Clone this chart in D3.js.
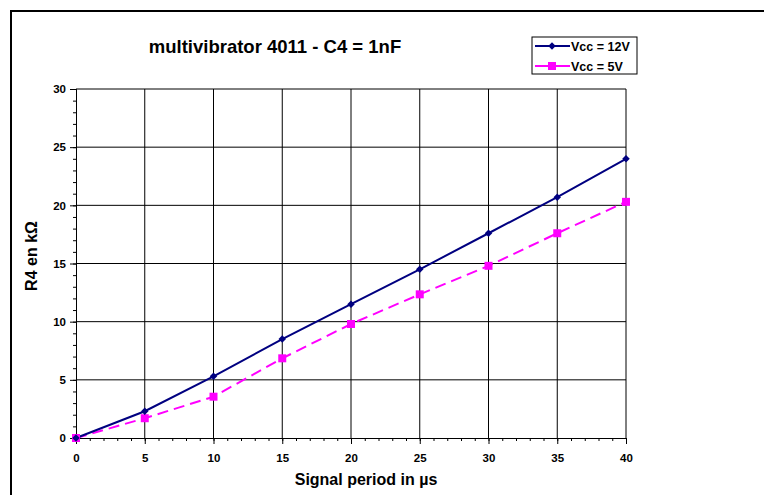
<!DOCTYPE html>
<html>
<head>
<meta charset="utf-8">
<script src="https://cdn.jsdelivr.net/npm/d3@7"></script>
<style>
  body { margin: 0; background: #fff; }
  text { font-family: Arial, "Liberation Sans", sans-serif; font-weight: bold; fill: #000; }
</style>
</head>
<body>
<div id="chart"></div>
<script>
// data
var periods = [0, 5, 10, 15, 20, 25, 30, 35, 40];
var r4At12V = [0, 2.3, 5.3, 8.5, 11.5, 14.5, 17.6, 20.7, 24.0];
var r4At5V = [0, 1.7, 3.55, 6.85, 9.8, 12.35, 14.8, 17.6, 20.3];
var xTicks = [0, 5, 10, 15, 20, 25, 30, 35, 40];
var yTicks = [0, 5, 10, 15, 20, 25, 30];
var seriesNames = ["Vcc = 12V", "Vcc = 5V"];

var W = 764, H = 495;
var margin = { top: 89, right: 138, bottom: 57, left: 76 },
    width = W - margin.left - margin.right,
    height = H - margin.top - margin.bottom;

var svg = d3.select("#chart")
  .append("svg")
  .attr("width", W)
  .attr("height", H);

// chart frame (runs off the right/bottom edge)
svg.append("rect")
  .attr("x", 11).attr("y", 11)
  .attr("width", W + 20).attr("height", H + 20)
  .attr("fill", "none")
  .attr("stroke", "#000")
  .attr("stroke-width", 2);

var g = svg.append("g")
  .attr("transform", "translate(" + margin.left + "," + margin.top + ")");

var x = d3.scaleLinear().domain([0, 40]).range([0, width]);
var y = d3.scaleLinear().domain([0, 30]).range([height, 0]);

// gridlines
g.selectAll(".vgrid")
  .data(xTicks.slice(1))
  .enter().append("line")
    .attr("x1", function(d) { return x(d) }).attr("x2", function(d) { return x(d) })
    .attr("y1", 0).attr("y2", height)
    .attr("stroke", "#000").attr("stroke-width", 1);
g.selectAll(".hgrid")
  .data(yTicks.slice(1))
  .enter().append("line")
    .attr("x1", 0).attr("x2", width)
    .attr("y1", function(d) { return y(d) }).attr("y2", function(d) { return y(d) })
    .attr("stroke", "#000").attr("stroke-width", 1);

// minor ticks (every 1 unit)
var xAxisMinor = g.append("g")
  .attr("transform", "translate(0," + height + ")")
  .call(d3.axisBottom(x).ticks(40).tickSize(3).tickFormat(""));
var yAxisMinor = g.append("g")
  .call(d3.axisLeft(y).ticks(30).tickSize(3).tickFormat(""));

// major axes
var xAxis = g.append("g")
  .attr("transform", "translate(0," + height + ")")
  .call(d3.axisBottom(x).tickValues(xTicks).tickSize(6).tickPadding(10));
var yAxis = g.append("g")
  .call(d3.axisLeft(y).tickValues(yTicks).tickSize(6).tickPadding(4));

[xAxisMinor, yAxisMinor, xAxis, yAxis].forEach(function(a) {
  a.selectAll("path, line").attr("stroke", "#000").attr("stroke-width", 1);
  a.selectAll("text").style("font-size", "11.5px").style("font-family", "Arial, 'Liberation Sans', sans-serif").style("font-weight", "bold").attr("fill", "#000");
});

// lines
var line = d3.line()
  .x(function(d) { return x(d[0]) })
  .y(function(d) { return y(d[1]) });

var data12 = periods.map(function(p, i) { return [p, r4At12V[i]] });
var data5 = periods.map(function(p, i) { return [p, r4At5V[i]] });

g.append("path")
  .datum(data5)
  .attr("d", line)
  .attr("fill", "none")
  .attr("stroke", "#ff00ff")
  .attr("stroke-width", 2)
  .attr("stroke-dasharray", "11,6");

g.append("path")
  .datum(data12)
  .attr("d", line)
  .attr("fill", "none")
  .attr("stroke", "#000080")
  .attr("stroke-width", 2);

var diamond = d3.symbol().type(d3.symbolDiamond2).size(36);
var square = d3.symbol().type(d3.symbolSquare).size(64);

g.selectAll(".m5")
  .data(data5)
  .enter().append("path")
    .attr("d", square)
    .attr("transform", function(d) { return "translate(" + x(d[0]) + "," + y(d[1]) + ")" })
    .attr("fill", "#ff00ff");

g.selectAll(".m12")
  .data(data12)
  .enter().append("path")
    .attr("d", diamond)
    .attr("transform", function(d) { return "translate(" + x(d[0]) + "," + y(d[1]) + ")" })
    .attr("fill", "#000080");

// title and axis labels
svg.append("text")
  .attr("x", 275).attr("y", 53)
  .attr("text-anchor", "middle")
  .style("font-size", "18.5px")
  .text("multivibrator 4011 - C4 = 1nF");

svg.append("text")
  .attr("x", 366).attr("y", 485)
  .attr("text-anchor", "middle")
  .style("font-size", "16px")
  .text("Signal period in µs");

svg.append("text")
  .attr("transform", "translate(37,256) rotate(-90)")
  .attr("text-anchor", "middle")
  .style("font-size", "16px")
  .text("R4 en kΩ");

// legend
var legend = svg.append("g").attr("transform", "translate(532,37)");
legend.append("rect")
  .attr("x", 0).attr("y", 0)
  .attr("width", 105).attr("height", 37)
  .attr("fill", "#fff")
  .attr("stroke", "#000")
  .attr("stroke-width", 1);

var legendColors = ["#000080", "#ff00ff"];
var legendSymbols = [diamond, square];
seriesNames.forEach(function(name, i) {
  var ly = 9 + i * 20;
  legend.append("line")
    .attr("x1", 3).attr("x2", 38)
    .attr("y1", ly).attr("y2", ly)
    .attr("stroke", legendColors[i])
    .attr("stroke-width", 2);
  legend.append("path")
    .attr("d", legendSymbols[i])
    .attr("transform", "translate(20," + ly + ")")
    .attr("fill", legendColors[i]);
  legend.append("text")
    .attr("x", 39).attr("y", ly + 4.5)
    .style("font-size", "12.5px")
    .text(name);
});
</script>
</body>
</html>
